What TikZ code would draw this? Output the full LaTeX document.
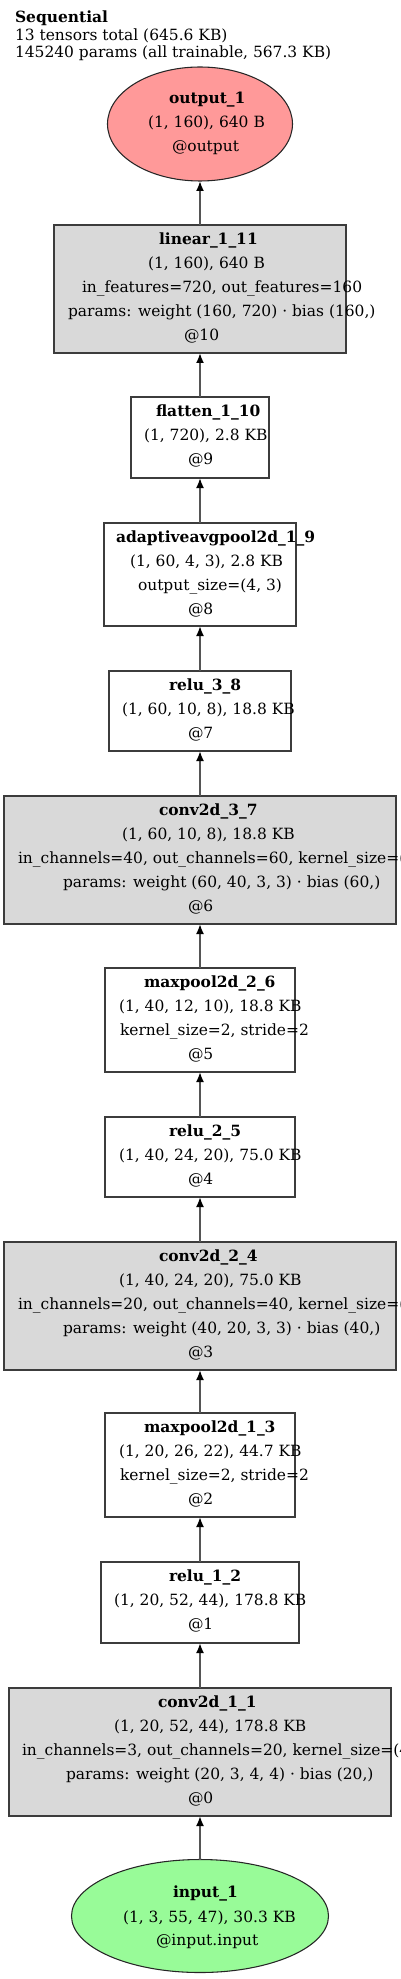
\documentclass[tikz,border=0pt]{standalone}
\usepackage{fontspec}
\setmainfont{DejaVu Serif}
\usetikzlibrary{arrows.meta,fit,shapes.geometric}
\definecolor{outfill}{RGB}{255,153,153}
\definecolor{infill}{RGB}{152,251,152}
\definecolor{parfill}{RGB}{217,217,217}
\definecolor{edgecol}{RGB}{60,60,60}
\definecolor{linkcol}{RGB}{85,85,85}
\begin{document}
\begin{tikzpicture}[x=0.75pt,y=-0.75pt,
  txt/.style={anchor=base west, inner sep=0pt, outer sep=0pt, font=\fontsize{11.6pt}{14pt}\selectfont},
  ttl/.style={txt, font=\fontsize{11.6pt}{14pt}\selectfont\bfseries},
  plainbox/.style={draw=edgecol, line width=1pt, inner sep=0pt, outer sep=0pt},
  parbox/.style={plainbox, fill=parfill},
  oval/.style={draw=black!85, line width=0.8pt, ellipse, inner sep=0pt, outer sep=0pt},
  arr/.style={draw=linkcol, line width=1.4pt, -{Latex[length=7.5pt,width=6pt,color=black]}}]
\useasboundingbox (0,0) rectangle (400,1979);
\clip (0,0) rectangle (400,1979);
% header
\node[ttl] (h1) at (15,23) {Sequential};
\node[txt] (h2) at (15,40.5) {13 tensors total (645.6 KB)};
\node[txt] (h3) at (15,58) {145240 params (all trainable, 567.3 KB)};
% output
\node[oval, fill=outfill, minimum width=138.75pt, minimum height=85.5pt] (out) at (200,124) {};
\node[ttl] (out1) at (169,104) {output\_1};
\node[txt] (out2) at (148,128) {(1, 160), 640 B};
\node[txt] (out3) at (172,152) {@output};
% linear_1_11
\node[parbox, fit={(54,225) (346,353)}] (lin) {};
\node[ttl] (lin1) at (159,244.5) {linear\_1\_11};
\node[txt] (lin2) at (148,268.5) {(1, 160), 640 B};
\node[txt] (lin3) at (82,292.5) {in\_features=720, out\_features=160};
\node[txt] (lin4) at (68,316.5) {params: weight (160, 720) · bias (160,)};
\node[txt] (lin5) at (184,340.5) {@10};
% flatten_1_10
\node[plainbox, fit={(131,397) (269,478)}] (fl) {};
\node[ttl] (fl1) at (156,416.5) {flatten\_1\_10};
\node[txt] (fl2) at (144,440.5) {(1, 720), 2.8 KB};
\node[txt] (fl3) at (188,464.5) {@9};
% adaptiveavgpool2d_1_9
\node[plainbox, fit={(104,523) (296,626)}] (ap) {};
\node[ttl] (ap1) at (116,542.5) {adaptiveavgpool2d\_1\_9};
\node[txt] (ap2) at (130,566.5) {(1, 60, 4, 3), 2.8 KB};
\node[txt] (ap3) at (138,590.5) {output\_size=(4, 3)};
\node[txt] (ap4) at (188,614.5) {@8};
% relu_3_8
\node[plainbox, fit={(109,671) (291,751)}] (r3) {};
\node[ttl] (r31) at (169,690.5) {relu\_3\_8};
\node[txt] (r32) at (122,714.5) {(1, 60, 10, 8), 18.8 KB};
\node[txt] (r33) at (188,738.5) {@7};
% conv2d_3_7
\node[parbox, fit={(4,796) (396,924)}] (c3) {};
\node[ttl] (c31) at (159,815.5) {conv2d\_3\_7};
\node[txt] (c32) at (122,839.5) {(1, 60, 10, 8), 18.8 KB};
\node[txt] (c33) at (18,863.5) {in\_channels=40, out\_channels=60, kernel\_size=(3, 3)};
\node[txt] (c34) at (63,887.5) {params: weight (60, 40, 3, 3) · bias (60,)};
\node[txt] (c35) at (188,911.5) {@6};
% maxpool2d_2_6
\node[plainbox, fit={(105,968) (295,1072)}] (m2) {};
\node[ttl] (m21) at (144,987.5) {maxpool2d\_2\_6};
\node[txt] (m22) at (119,1011.5) {(1, 40, 12, 10), 18.8 KB};
\node[txt] (m23) at (120,1035.5) {kernel\_size=2, stride=2};
\node[txt] (m24) at (188,1059.5) {@5};
% relu_2_5
\node[plainbox, fit={(105,1117) (295,1197)}] (r2) {};
\node[ttl] (r21) at (169,1136.5) {relu\_2\_5};
\node[txt] (r22) at (119,1160.5) {(1, 40, 24, 20), 75.0 KB};
\node[txt] (r23) at (188,1184.5) {@4};
% conv2d_2_4
\node[parbox, fit={(4,1242) (396,1370)}] (c2) {};
\node[ttl] (c21) at (159,1261.5) {conv2d\_2\_4};
\node[txt] (c22) at (119,1285.5) {(1, 40, 24, 20), 75.0 KB};
\node[txt] (c23) at (18,1309.5) {in\_channels=20, out\_channels=40, kernel\_size=(3, 3)};
\node[txt] (c24) at (63,1333.5) {params: weight (40, 20, 3, 3) · bias (40,)};
\node[txt] (c25) at (188,1357.5) {@3};
% maxpool2d_1_3
\node[plainbox, fit={(105,1413) (295,1517)}] (m1) {};
\node[ttl] (m11) at (144,1432.5) {maxpool2d\_1\_3};
\node[txt] (m12) at (119,1456.5) {(1, 20, 26, 22), 44.7 KB};
\node[txt] (m13) at (120,1480.5) {kernel\_size=2, stride=2};
\node[txt] (m14) at (188,1504.5) {@2};
% relu_1_2
\node[plainbox, fit={(101,1562) (299,1643)}] (r1) {};
\node[ttl] (r11) at (169,1581.5) {relu\_1\_2};
\node[txt] (r12) at (114,1605.5) {(1, 20, 52, 44), 178.8 KB};
\node[txt] (r13) at (188,1629.5) {@1};
% conv2d_1_1
\node[parbox, fit={(9,1688) (391,1816)}] (c1) {};
\node[ttl] (c11) at (158,1707.5) {conv2d\_1\_1};
\node[txt] (c12) at (114,1731.5) {(1, 20, 52, 44), 178.8 KB};
\node[txt] (c13) at (22,1755.5) {in\_channels=3, out\_channels=20, kernel\_size=(4, 4)};
\node[txt] (c14) at (66,1779.5) {params: weight (20, 3, 4, 4) · bias (20,)};
\node[txt] (c15) at (188,1803.5) {@0};
% input
\node[oval, fill=infill, minimum width=192.75pt, minimum height=84.75pt] (in) at (200,1916) {};
\node[ttl] (in1) at (173,1897) {input\_1};
\node[txt] (in2) at (123,1922) {(1, 3, 55, 47), 30.3 KB};
\node[txt] (in3) at (156,1945) {@input.input};
% edges
\draw[arr] (in.north) -- (c1.south);
\draw[arr] (c1.north) -- (r1.south);
\draw[arr] (r1.north) -- (m1.south);
\draw[arr] (m1.north) -- (c2.south);
\draw[arr] (c2.north) -- (r2.south);
\draw[arr] (r2.north) -- (m2.south);
\draw[arr] (m2.north) -- (c3.south);
\draw[arr] (c3.north) -- (r3.south);
\draw[arr] (r3.north) -- (ap.south);
\draw[arr] (ap.north) -- (fl.south);
\draw[arr] (fl.north) -- (lin.south);
\draw[arr] (lin.north) -- (out.south);
\end{tikzpicture}
\end{document}
